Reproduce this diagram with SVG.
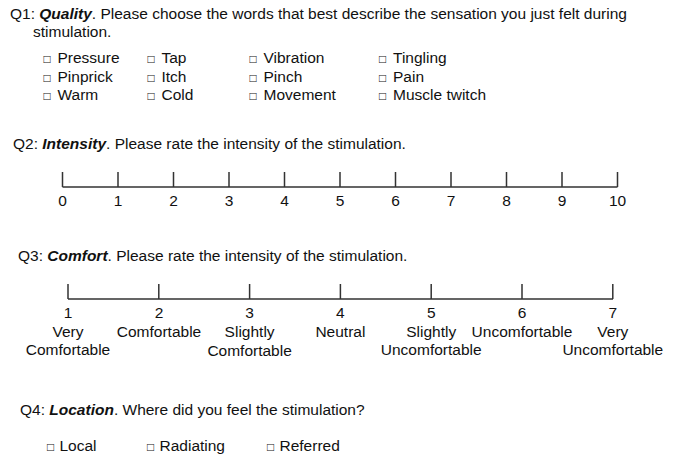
<svg xmlns="http://www.w3.org/2000/svg" width="684" height="458" viewBox="0 0 684 458">
<style>
text{font-family:"Liberation Sans",Arial,Helvetica,sans-serif;font-size:15.5px;fill:#111}
.bi{font-weight:bold;font-style:italic}
.c{text-anchor:middle}
.b{font-size:12px}
.scale{stroke:#333;stroke-width:1.5;fill:none}
</style>
<rect width="684" height="458" fill="#fff"/>
<g id="q1">
<text x="10" y="19">Q1: <tspan class="bi">Quality</tspan>. Please choose the words that best describe the sensation you just felt during</text>
<text x="33" y="37">stimulation.</text>
<text y="63"><tspan class="b" x="43.5">□</tspan><tspan x="57.5">Pressure</tspan></text>
<text y="81.5"><tspan class="b" x="43.5">□</tspan><tspan x="57.5">Pinprick</tspan></text>
<text y="100"><tspan class="b" x="43.5">□</tspan><tspan x="57.5">Warm</tspan></text>
<text y="63"><tspan class="b" x="147.5">□</tspan><tspan x="161.5">Tap</tspan></text>
<text y="81.5"><tspan class="b" x="147.5">□</tspan><tspan x="161.5">Itch</tspan></text>
<text y="100"><tspan class="b" x="147.5">□</tspan><tspan x="161.5">Cold</tspan></text>
<text y="63"><tspan class="b" x="249.5">□</tspan><tspan x="263.5">Vibration</tspan></text>
<text y="81.5"><tspan class="b" x="249.5">□</tspan><tspan x="263.5">Pinch</tspan></text>
<text y="100"><tspan class="b" x="249.5">□</tspan><tspan x="263.5">Movement</tspan></text>
<text y="63"><tspan class="b" x="379">□</tspan><tspan x="393">Tingling</tspan></text>
<text y="81.5"><tspan class="b" x="379">□</tspan><tspan x="393">Pain</tspan></text>
<text y="100"><tspan class="b" x="379">□</tspan><tspan x="393">Muscle twitch</tspan></text>
</g>
<g id="q2">
<text x="13" y="149">Q2: <tspan class="bi">Intensity</tspan>. Please rate the intensity of the stimulation.</text>
<path class="scale" d="M62.5 187H617.5M62.5 172V187M118 172V187M173.5 172V187M229 172V187M284.5 172V187M340 172V187M395.5 172V187M451 172V187M506.5 172V187M562 172V187M617.5 172V187"/>
<text class="c" x="62.5" y="206">0</text>
<text class="c" x="118" y="206">1</text>
<text class="c" x="173.5" y="206">2</text>
<text class="c" x="229" y="206">3</text>
<text class="c" x="284.5" y="206">4</text>
<text class="c" x="340" y="206">5</text>
<text class="c" x="395.5" y="206">6</text>
<text class="c" x="451" y="206">7</text>
<text class="c" x="506.5" y="206">8</text>
<text class="c" x="562" y="206">9</text>
<text class="c" x="617.5" y="206">10</text>
</g>
<g id="q3">
<text x="18" y="261">Q3: <tspan class="bi">Comfort</tspan>. Please rate the intensity of the stimulation.</text>
<path class="scale" d="M68 299H613M68 284V299M158.8 284V299M249.6 284V299M340.4 284V299M431.2 284V299M522 284V299M612.8 284V299"/>
<text class="c" x="68" y="318">1</text>
<text class="c" x="68" y="337">Very</text>
<text class="c" x="68" y="355">Comfortable</text>
<text class="c" x="159" y="318">2</text>
<text class="c" x="159" y="337">Comfortable</text>
<text class="c" x="249.6" y="318">3</text>
<text class="c" x="249.6" y="337">Slightly</text>
<text class="c" x="249.6" y="356">Comfortable</text>
<text class="c" x="340.4" y="318">4</text>
<text class="c" x="340.4" y="337">Neutral</text>
<text class="c" x="431.2" y="318">5</text>
<text class="c" x="431.2" y="337">Slightly</text>
<text class="c" x="431.2" y="355">Uncomfortable</text>
<text class="c" x="522" y="318">6</text>
<text class="c" x="522" y="337">Uncomfortable</text>
<text class="c" x="612.8" y="318">7</text>
<text class="c" x="612.8" y="337">Very</text>
<text class="c" x="612.8" y="355">Uncomfortable</text>
</g>
<g id="q4">
<text x="20" y="415">Q4: <tspan class="bi">Location</tspan>. Where did you feel the stimulation?</text>
<text y="451"><tspan class="b" x="47">□</tspan><tspan x="59.5">Local</tspan></text>
<text y="451"><tspan class="b" x="147">□</tspan><tspan x="159.5">Radiating</tspan></text>
<text y="451"><tspan class="b" x="267">□</tspan><tspan x="279.5">Referred</tspan></text>
</g>
</svg>
